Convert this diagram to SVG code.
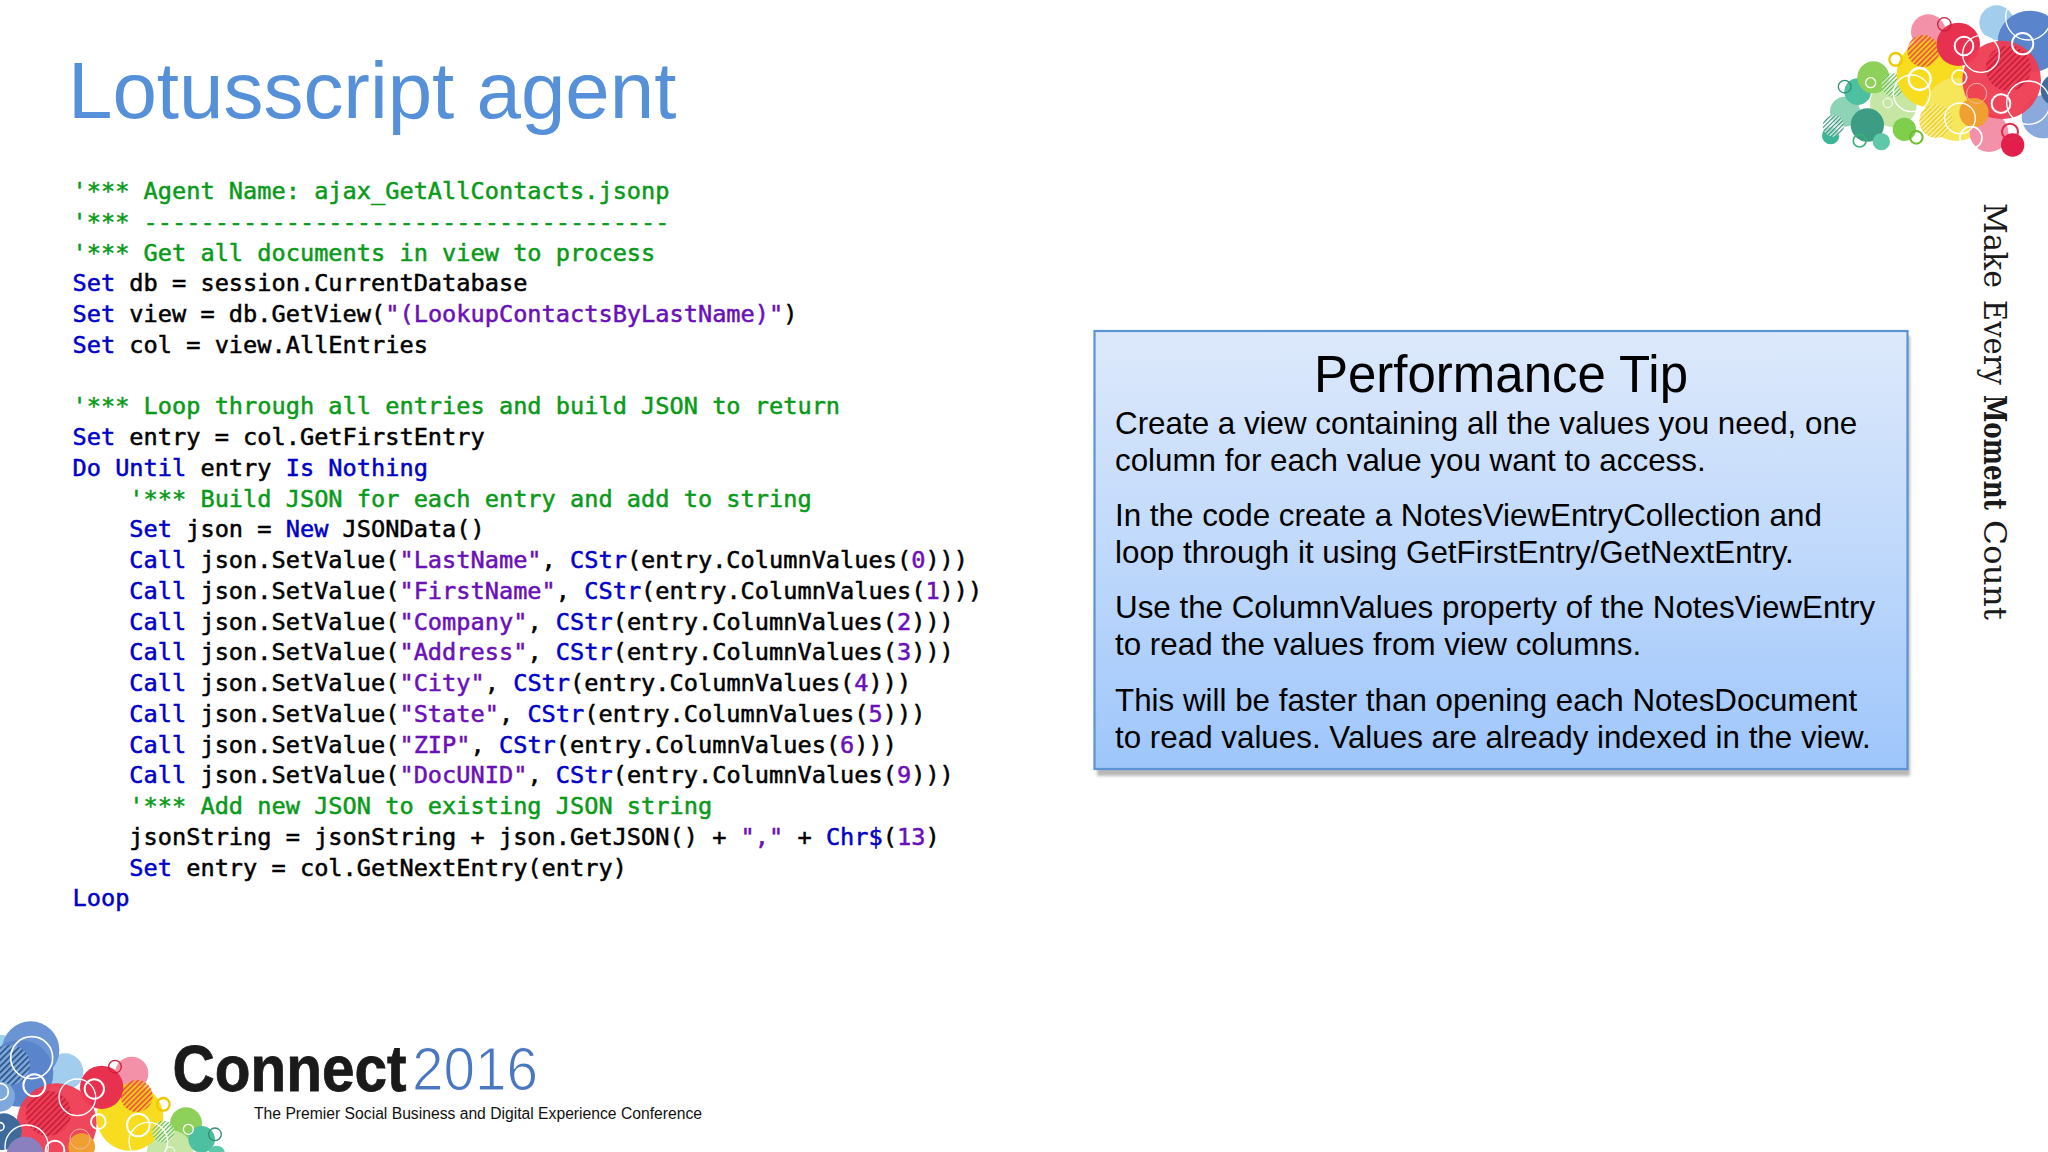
<svg xmlns="http://www.w3.org/2000/svg" width="2048" height="1152" viewBox="0 0 2048 1152">
<style>
.sans{font-family:"Liberation Sans",Arial,sans-serif}
.code{font-family:"DejaVu Sans Mono","Liberation Mono",monospace;font-size:23.62px;fill:#000;stroke:#000;stroke-width:.5px;white-space:pre}
.g{fill:#0a9a1a;stroke:#0a9a1a}
.k{fill:#0000c8;stroke:#0000c8}
.s{fill:#6a10b8;stroke:#6a10b8}
.b{font-size:31.35px;fill:#000}
.w{fill:none;stroke:#fff}
</style>
<defs>
<linearGradient id="box" x1="0" y1="0" x2="0" y2="1"><stop offset="0" stop-color="#dde9fb"/><stop offset=".5" stop-color="#c0d9fb"/><stop offset="1" stop-color="#9ec6fb"/></linearGradient>
<pattern id="hGreen" width="9" height="9" patternUnits="userSpaceOnUse" patternTransform="rotate(-45)"><rect width="9" height="4" fill="#5cb84a"/><rect y="4" width="9" height="5" fill="#fff" fill-opacity=".6"/></pattern>
<pattern id="hTeal" width="9" height="9" patternUnits="userSpaceOnUse" patternTransform="rotate(-45)"><rect width="9" height="4" fill="#2f8f75"/><rect y="4" width="9" height="5" fill="#fff" fill-opacity=".7"/></pattern>
<pattern id="hOrange" width="11" height="11" patternUnits="userSpaceOnUse" patternTransform="rotate(-45)"><rect width="11" height="5" fill="#e8503a"/><rect y="5" width="11" height="6" fill="#f8c020" fill-opacity=".7"/></pattern>
<pattern id="hYellow" width="10" height="10" patternUnits="userSpaceOnUse" patternTransform="rotate(-45)"><rect width="10" height="4" fill="#e8c810"/><rect y="4" width="10" height="6" fill="#f8ee90"/></pattern>
<pattern id="hRed" width="13" height="13" patternUnits="userSpaceOnUse" patternTransform="rotate(-45)"><rect width="13" height="6" fill="#c8203f"/><rect y="6" width="13" height="7" fill="#ee3c52"/></pattern>
<pattern id="hBlue" width="13" height="13" patternUnits="userSpaceOnUse" patternTransform="rotate(-45)"><rect width="13" height="6" fill="#2f5a8c"/><rect y="6" width="13" height="7" fill="#7fa8dc"/></pattern>
<filter id="blur" x="-5%" y="-5%" width="110%" height="110%"><feGaussianBlur stdDeviation="1.5"/></filter>
</defs>

<rect width="2048" height="1152" fill="#fff"/>

<g id="title"><text class="sans" x="68" y="118" font-size="79.9" fill="#5590d8">Lotusscript agent</text></g>

<g id="code" class="code">
<text class="code g" x="72.5" y="199">'*** Agent Name: ajax_GetAllContacts.jsonp</text>
<text class="code g" x="72.5" y="229.7">'*** -------------------------------------</text>
<text class="code g" x="72.5" y="260.5">'*** Get all documents in view to process</text>
<text class="code" x="72.5" y="291.2"><tspan class="k">Set</tspan> db = session.CurrentDatabase</text>
<text class="code" x="72.5" y="322"><tspan class="k">Set</tspan> view = db.GetView(<tspan class="s">"(LookupContactsByLastName)"</tspan>)</text>
<text class="code" x="72.5" y="352.7"><tspan class="k">Set</tspan> col = view.AllEntries</text>
<text class="code g" x="72.5" y="414.2">'*** Loop through all entries and build JSON to return</text>
<text class="code" x="72.5" y="445"><tspan class="k">Set</tspan> entry = col.GetFirstEntry</text>
<text class="code" x="72.5" y="475.7"><tspan class="k">Do Until</tspan> entry <tspan class="k">Is Nothing</tspan></text>
<text class="code g" x="72.5" y="506.5">    '*** Build JSON for each entry and add to string</text>
<text class="code" x="72.5" y="537.2">    <tspan class="k">Set</tspan> json = <tspan class="k">New</tspan> JSONData()</text>
<text class="code" x="72.5" y="568">    <tspan class="k">Call</tspan> json.SetValue(<tspan class="s">"LastName"</tspan>, <tspan class="k">CStr</tspan>(entry.ColumnValues(<tspan class="s">0</tspan>)))</text>
<text class="code" x="72.5" y="598.7">    <tspan class="k">Call</tspan> json.SetValue(<tspan class="s">"FirstName"</tspan>, <tspan class="k">CStr</tspan>(entry.ColumnValues(<tspan class="s">1</tspan>)))</text>
<text class="code" x="72.5" y="629.5">    <tspan class="k">Call</tspan> json.SetValue(<tspan class="s">"Company"</tspan>, <tspan class="k">CStr</tspan>(entry.ColumnValues(<tspan class="s">2</tspan>)))</text>
<text class="code" x="72.5" y="660.2">    <tspan class="k">Call</tspan> json.SetValue(<tspan class="s">"Address"</tspan>, <tspan class="k">CStr</tspan>(entry.ColumnValues(<tspan class="s">3</tspan>)))</text>
<text class="code" x="72.5" y="691">    <tspan class="k">Call</tspan> json.SetValue(<tspan class="s">"City"</tspan>, <tspan class="k">CStr</tspan>(entry.ColumnValues(<tspan class="s">4</tspan>)))</text>
<text class="code" x="72.5" y="721.7">    <tspan class="k">Call</tspan> json.SetValue(<tspan class="s">"State"</tspan>, <tspan class="k">CStr</tspan>(entry.ColumnValues(<tspan class="s">5</tspan>)))</text>
<text class="code" x="72.5" y="752.5">    <tspan class="k">Call</tspan> json.SetValue(<tspan class="s">"ZIP"</tspan>, <tspan class="k">CStr</tspan>(entry.ColumnValues(<tspan class="s">6</tspan>)))</text>
<text class="code" x="72.5" y="783.2">    <tspan class="k">Call</tspan> json.SetValue(<tspan class="s">"DocUNID"</tspan>, <tspan class="k">CStr</tspan>(entry.ColumnValues(<tspan class="s">9</tspan>)))</text>
<text class="code g" x="72.5" y="814">    '*** Add new JSON to existing JSON string</text>
<text class="code" x="72.5" y="844.7">    jsonString = jsonString + json.GetJSON() + <tspan class="s">","</tspan> + <tspan class="k">Chr$</tspan>(<tspan class="s">13</tspan>)</text>
<text class="code" x="72.5" y="875.5">    <tspan class="k">Set</tspan> entry = col.GetNextEntry(entry)</text>
<text class="code" x="72.5" y="906.2"><tspan class="k">Loop</tspan></text>
</g>

<g id="performance-tip">
<rect x="1097" y="336" width="813" height="440" fill="#000" fill-opacity=".28" filter="url(#blur)"/>
<rect x="1094.5" y="331" width="813" height="438" fill="url(#box)" stroke="#5b93d3" stroke-width="2.2"/>
<text class="sans" x="1501" y="391.5" font-size="51" text-anchor="middle" fill="#000">Performance Tip</text>
<text class="sans b" x="1115" y="433.5">Create a view containing all the values you need, one</text>
<text class="sans b" x="1115" y="471">column for each value you want to access.</text>
<text class="sans b" x="1115" y="525.5">In the code create a NotesViewEntryCollection and</text>
<text class="sans b" x="1115" y="562.5">loop through it using GetFirstEntry/GetNextEntry.</text>
<text class="sans b" x="1115" y="618">Use the ColumnValues property of the NotesViewEntry</text>
<text class="sans b" x="1115" y="655">to read the values from view columns.</text>
<text class="sans b" x="1115" y="710.5">This will be faster than opening each NotesDocument</text>
<text class="sans b" x="1115" y="747.5">to read values. Values are already indexed in the view.</text>
</g>

<g id="tagline"><text transform="translate(1984 0) rotate(90)" font-family="'DejaVu Serif','Liberation Serif',serif" font-size="31" fill="#1a1a1a"><tspan x="203" textLength="85" lengthAdjust="spacingAndGlyphs">Make</tspan><tspan x="300" textLength="85" lengthAdjust="spacingAndGlyphs">Every</tspan><tspan x="395" textLength="115" lengthAdjust="spacingAndGlyphs" font-weight="bold">Moment</tspan><tspan x="520" textLength="100" lengthAdjust="spacingAndGlyphs">Count</tspan></text></g>

<g id="bubbles-top" transform="translate(1780 0) scale(.33333)">
<circle cx="650" cy="68" r="52" fill="#a3cdec"/>
<ellipse cx="750" cy="125" rx="97" ry="93" fill="#5a84cc"/>
<circle cx="790" cy="350" r="65" fill="#8aa9dd"/>
<circle cx="830" cy="270" r="48" fill="#3f6a9c"/>
<circle cx="195" cy="335" r="45" fill="#8fd3b7"/>
<circle cx="340" cy="312" r="70" fill="#c6e6a4"/>
<circle cx="233" cy="275" r="40" fill="#4cc0a0"/>
<circle cx="280" cy="232" r="48" fill="#8ed15a"/>
<circle cx="262" cy="375" r="50" fill="#3c9d84"/>
<circle cx="152" cy="407" r="26" fill="#3db596"/>
<circle cx="304" cy="425" r="26" fill="#5ec9a8"/>
<circle cx="373" cy="388" r="35" fill="#7fcf4c"/>
<circle cx="160" cy="378" r="32" fill="url(#hTeal)"/>
<circle cx="340" cy="255" r="35" fill="url(#hGreen)"/>
<circle cx="445" cy="95" r="52" fill="#f291a8"/>
<circle cx="450" cy="222" r="100" fill="#f8dc1f"/>
<circle cx="530" cy="328" r="95" fill="#f5e65a"/>
<circle cx="468" cy="363" r="50" fill="url(#hYellow)"/>
<circle cx="430" cy="153" r="48" fill="url(#hOrange)"/>
<circle cx="627" cy="398" r="58" fill="#f291a8"/>
<circle cx="535" cy="133" r="65" fill="#e8304f"/>
<circle cx="665" cy="240" r="118" fill="#ee3c52" fill-opacity=".95"/>
<circle cx="685" cy="205" r="68" fill="url(#hRed)"/>
<circle cx="582" cy="338" r="44" fill="#f0a030"/>
<circle cx="698" cy="435" r="35" fill="#e41e4a"/>
<g fill="none">
<circle cx="194" cy="260" r="19" stroke="#2f8f75" stroke-width="4"/>
<circle cx="239" cy="422" r="19" stroke="#3bb077" stroke-width="5"/>
<circle cx="409" cy="412" r="19" stroke="#6cc02f" stroke-width="6"/>
<circle cx="347" cy="178" r="19" stroke="#eec900" stroke-width="7"/>
<circle cx="690" cy="395" r="24" stroke="#e0284a" stroke-width="6"/>
<circle cx="493" cy="73" r="20" stroke="#c8203f" stroke-width="4"/>
<circle cx="590" cy="280" r="30" stroke="#f4b8a0" stroke-width="3"/>
</g>
<g class="w">
<circle cx="272" cy="248" r="15" stroke-width="4"/>
<circle cx="323" cy="309" r="14" stroke-width="3"/>
<circle cx="573" cy="413" r="33" stroke-width="5"/>
<circle cx="540" cy="355" r="46" stroke-width="4"/>
<circle cx="538" cy="232" r="22" stroke-width="5"/>
<circle cx="663" cy="311" r="28" stroke-width="6"/>
<circle cx="419" cy="237" r="33" stroke-width="7"/>
<circle cx="395" cy="280" r="55" stroke-width="4"/>
<circle cx="552" cy="138" r="28" stroke-width="6"/>
<circle cx="603" cy="162" r="55" stroke-width="4"/>
<circle cx="728" cy="131" r="32" stroke-width="6"/>
<circle cx="745" cy="52" r="68" stroke-width="4"/>
<circle cx="745" cy="308" r="65" stroke-width="4"/>
</g>
</g>

<g id="bubbles-bottom" transform="translate(0 1010) scale(.33333)">
<circle cx="5" cy="110" r="35" fill="#9ed2e8"/>
<circle cx="195" cy="185" r="55" fill="#a3cdec"/>
<circle cx="92" cy="120" r="86" fill="#6a94d3"/>
<circle cx="60" cy="190" r="100" fill="#5a84cc"/>
<circle cx="30" cy="165" r="60" fill="url(#hBlue)"/>
<circle cx="0" cy="260" r="45" fill="#7fa8dc"/>
<circle cx="558" cy="340" r="48" fill="#8ed15a"/>
<circle cx="510" cy="430" r="70" fill="#c6e6a4"/>
<circle cx="605" cy="388" r="40" fill="#4cc0a0"/>
<circle cx="650" cy="432" r="25" fill="#5ec9a8"/>
<circle cx="395" cy="190" r="50" fill="#f291a8"/>
<circle cx="390" cy="322" r="100" fill="#f8dc1f"/>
<circle cx="490" cy="365" r="33" fill="url(#hGreen)"/>
<circle cx="410" cy="258" r="48" fill="url(#hOrange)"/>
<circle cx="305" cy="232" r="65" fill="#e8304f"/>
<circle cx="170" cy="340" r="120" fill="#ee3c52" fill-opacity=".95"/>
<circle cx="145" cy="310" r="68" fill="url(#hRed)"/>
<circle cx="10" cy="365" r="55" fill="#3f6a9c"/>
<circle cx="75" cy="435" r="55" fill="#8a80c0"/>
<circle cx="245" cy="410" r="40" fill="#f0a030"/>
<g fill="none">
<circle cx="345" cy="170" r="19" stroke="#c8203f" stroke-width="4"/>
<circle cx="490" cy="283" r="19" stroke="#eec900" stroke-width="7"/>
<circle cx="645" cy="373" r="19" stroke="#2f8f75" stroke-width="4"/>
<circle cx="240" cy="387" r="30" stroke="#f4b8a0" stroke-width="3"/>
</g>
<g class="w">
<circle cx="95" cy="143" r="63" stroke-width="5"/>
<circle cx="103" cy="226" r="33" stroke-width="6"/>
<circle cx="232" cy="262" r="55" stroke-width="4"/>
<circle cx="283" cy="237" r="29" stroke-width="6"/>
<circle cx="295" cy="335" r="22" stroke-width="6"/>
<circle cx="165" cy="420" r="28" stroke-width="6"/>
<circle cx="80" cy="410" r="65" stroke-width="4"/>
<circle cx="415" cy="345" r="34" stroke-width="6"/>
<circle cx="445" cy="395" r="58" stroke-width="4"/>
<circle cx="565" cy="358" r="15" stroke-width="4"/>
<circle cx="510" cy="425" r="14" stroke-width="3"/>
<circle cx="0" cy="245" r="25" stroke-width="5"/>
<circle cx="0" cy="350" r="12" stroke-width="5"/>
</g>
</g>

<g id="connect-logo">
<text class="sans" x="172.5" y="1090.5" font-size="64" font-weight="bold" fill="#1a1a1a" stroke="#1a1a1a" stroke-width=".8" textLength="234" lengthAdjust="spacingAndGlyphs">Connect</text>
<text class="sans" x="412" y="1090" font-size="61" fill="#4a78c0" stroke="#fff" stroke-width="1.2" textLength="126" lengthAdjust="spacingAndGlyphs">2016</text>
<text class="sans" x="254" y="1119" font-size="15.6" fill="#111" textLength="448" lengthAdjust="spacingAndGlyphs">The Premier Social Business and Digital Experience Conference</text>
</g>
</svg>
